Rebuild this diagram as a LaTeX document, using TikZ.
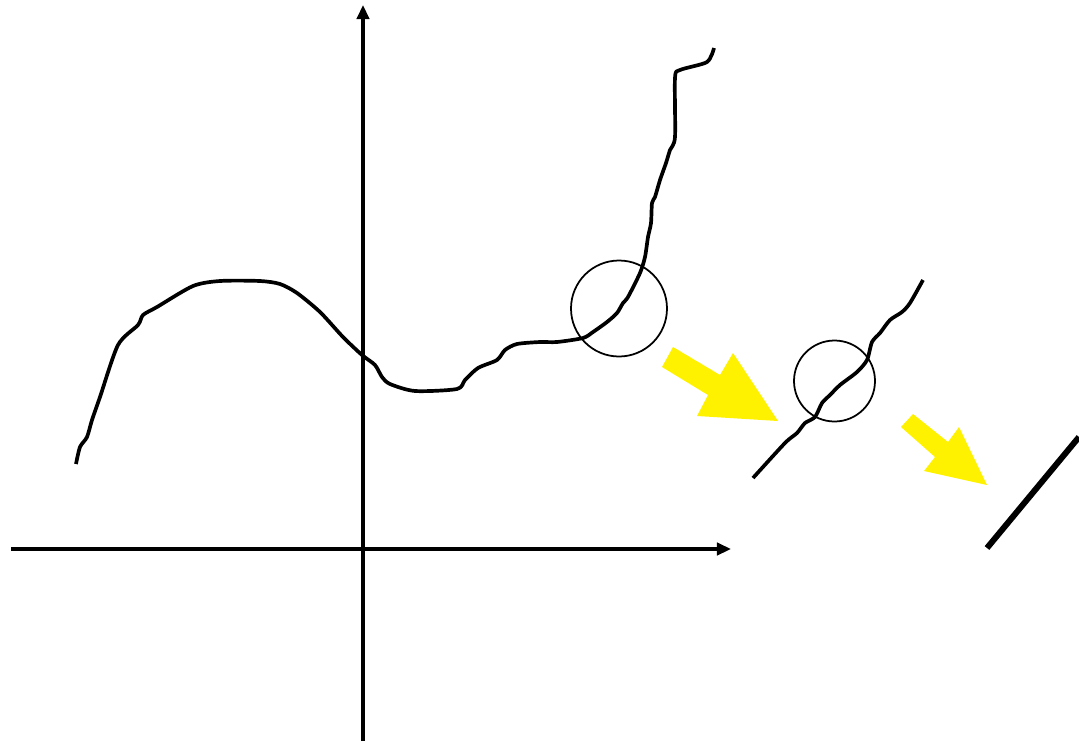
\documentclass[tikz,border=0pt]{standalone}
\usetikzlibrary{arrows.meta}

\begin{document}
\begin{tikzpicture}[
  x=0.02cm, y=-0.02cm,
  axis/.style={draw, line width=2pt, -{Triangle[length=8pt,width=7pt]}},
  curve/.style={draw, line width=2.1pt, line join=round, line cap=butt},
  zoomring/.style={draw, line width=1pt},
  hint/.style={fill=yellow, draw=none}
]
\useasboundingbox (0,0) rectangle (1079,741);
% axes
\coordinate (xstart) at (11,549);
\coordinate (xend)   at (731,549);
\coordinate (ystart) at (363,741);
\coordinate (yend)   at (363,5);
\draw[axis] (xstart) -- (xend);
\draw[axis] (ystart) -- (yend);
% the wobbly function
\draw[curve] plot[smooth, tension=0.45] coordinates {
  (76,464) (80,447) (87,437) (92,420) (100,397) (118,345) (138,325)
  (143,315) (157,307) (193,286) (220,281) (260,281) (280,284) (297,293)
  (320,312) (343,337) (362,355) (375,365) (382,377) (390,384) (415,391)
  (457,389) (465,380) (478,368) (497,360) (505,350) (517,344) (540,342)
  (557,342) (583,338) (593,332) (607,322) (617,313) (623,303) (628,297)
  (640,273) (645,257) (648,237) (651,223) (652,203) (655,197) (660,180)
  (666,163) (670,150) (675,137) (675,78) (680,70) (707,62) (714,48)};
\draw[zoomring] (619,308.5) circle (48);
% first zoom
\fill[hint] (673,347) -- (720,375) -- (733,353) -- (778,421)
  -- (697,416) -- (708,395) -- (662,367) -- cycle;
\draw[curve] plot[smooth, tension=0.45] coordinates {
  (753,478) (785,443) (797,433) (805,423) (815,417) (822,403) (830,395)
  (840,385) (857,372) (867,360) (872,342) (880,333) (890,320) (902,312)
  (910,303) (923,280)};
\draw[zoomring] (834.5,381) circle (40.5);
% second zoom
\fill[hint] (913,414) -- (948,442) -- (959,427) -- (987,485)
  -- (924,471) -- (935,457) -- (901,427) -- cycle;
\coordinate (lstart) at (987,548);
\coordinate (lend)   at (1079,437);
\draw[line width=3.4pt] (lstart) -- (lend);
\end{tikzpicture}
\end{document}
